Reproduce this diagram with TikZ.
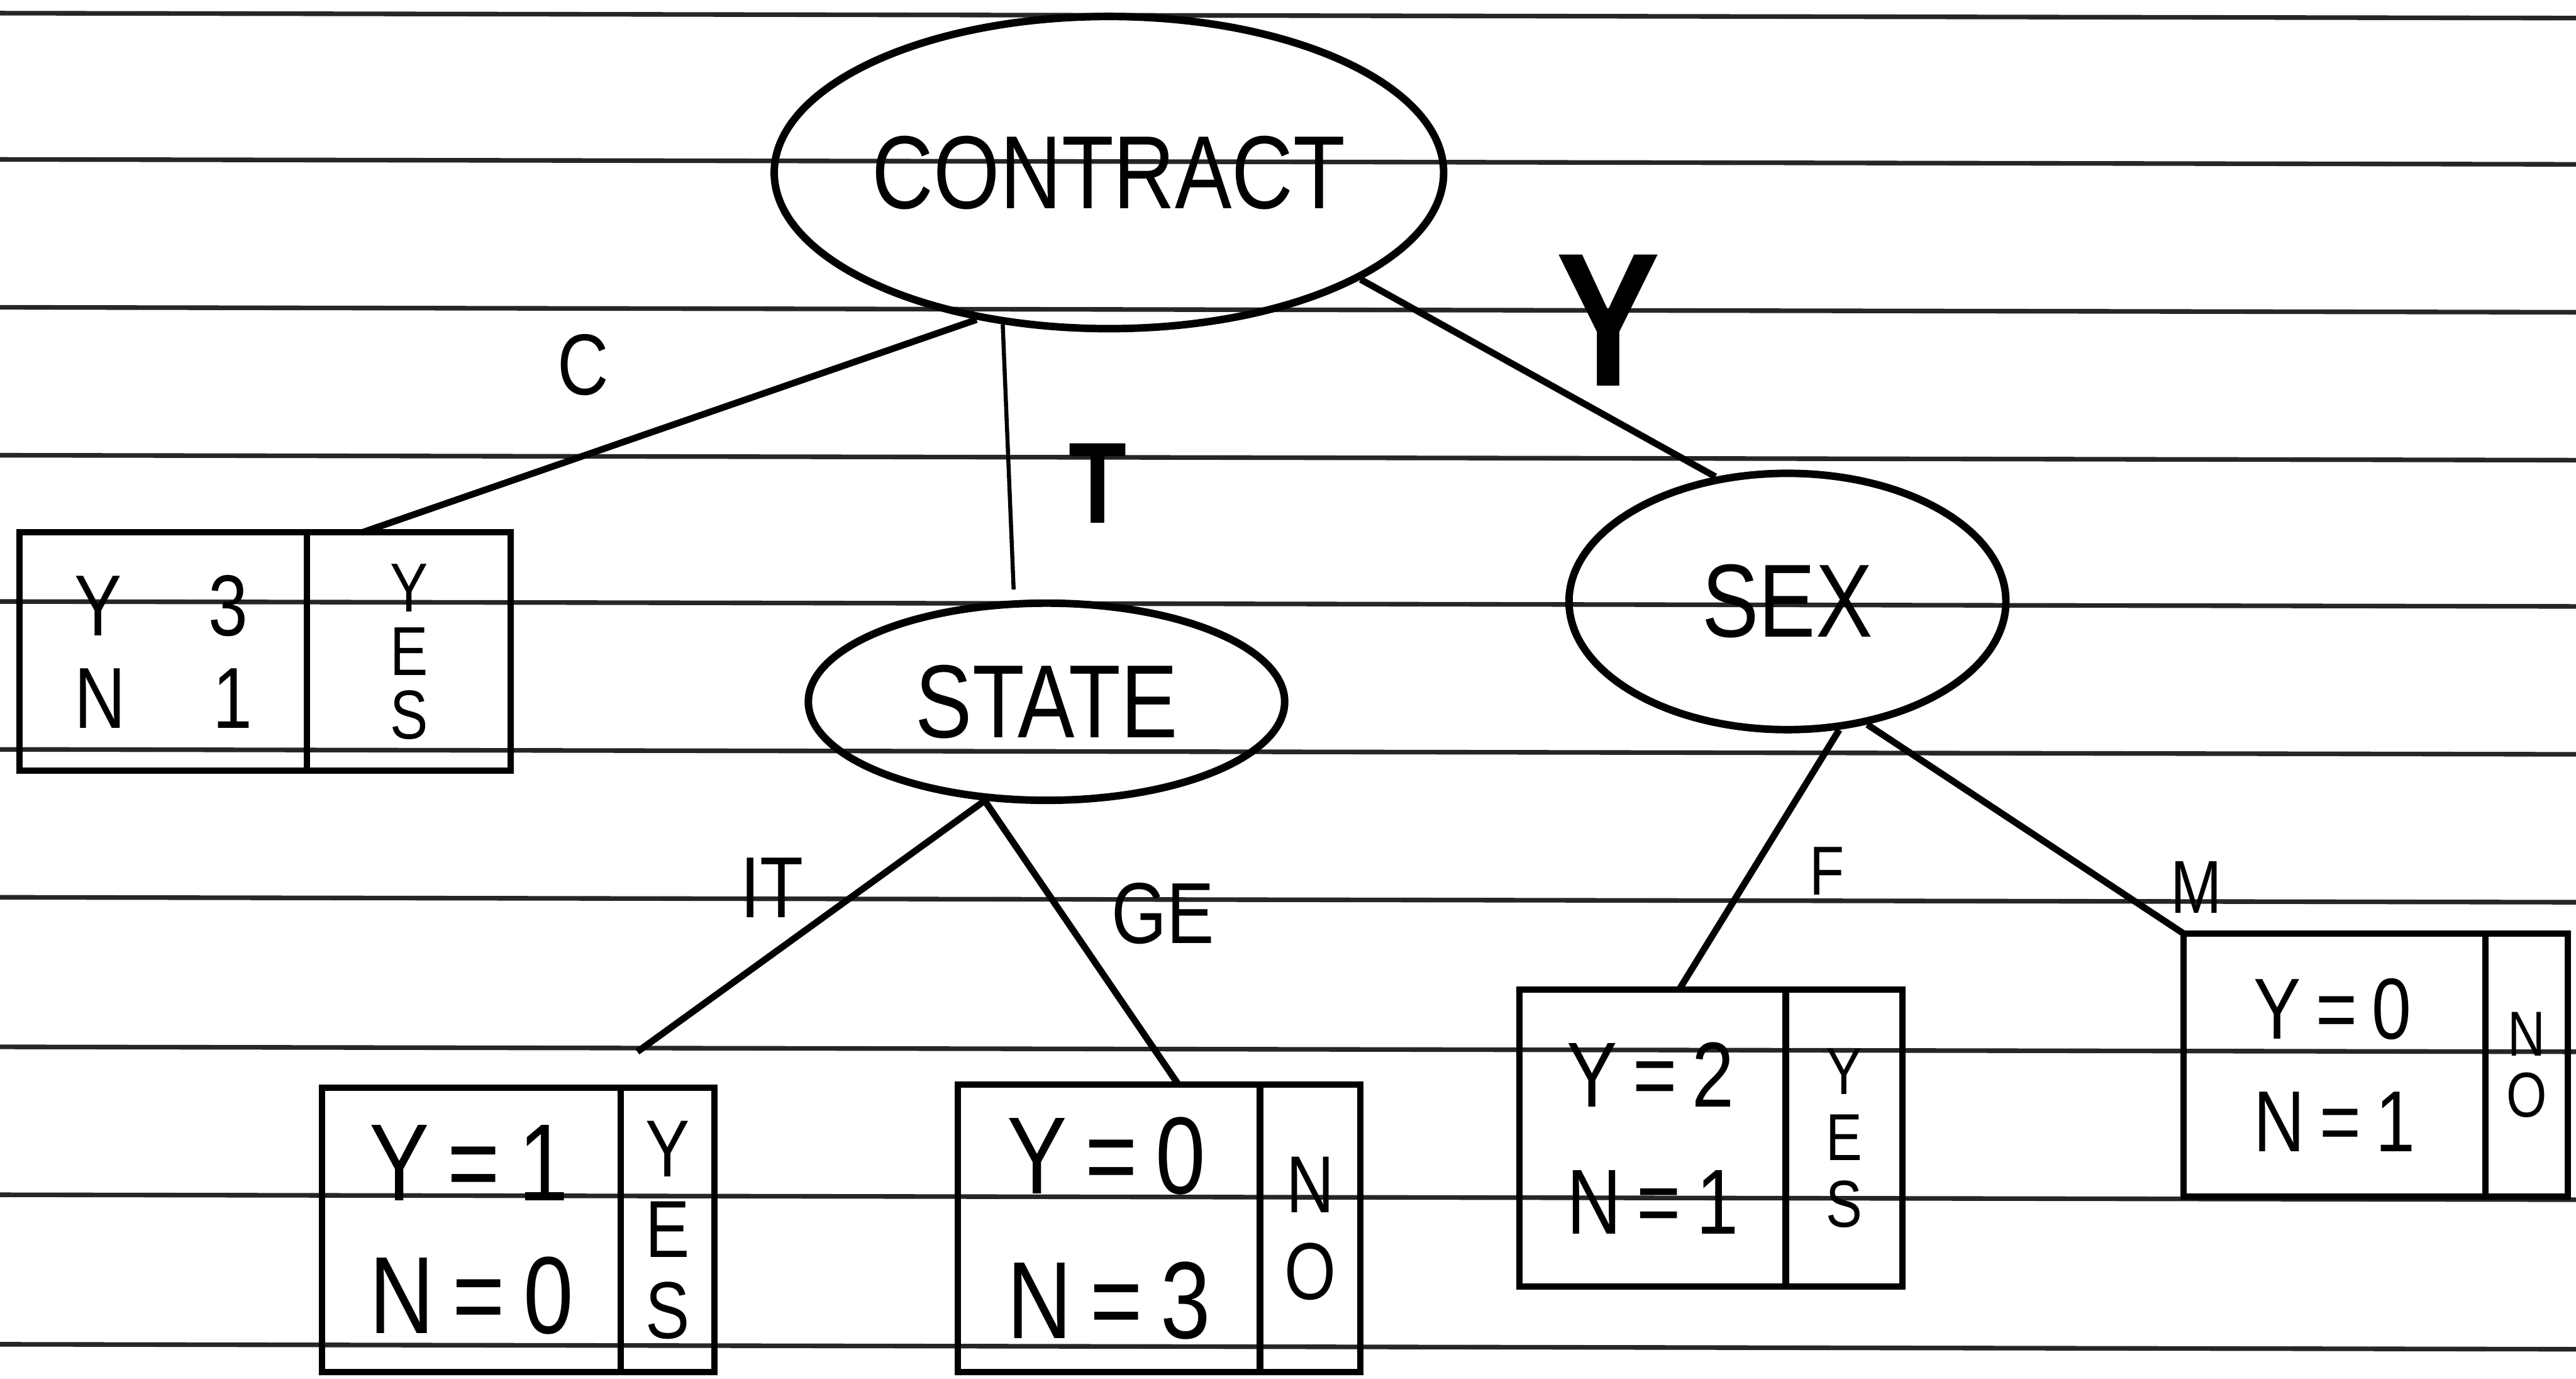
\documentclass[tikz,border=0pt]{standalone}
\usepackage{fontspec}
\newfontfamily\handfont[FakeStretch=0.82]{Liberation Sans}
\usetikzlibrary{shapes.geometric, positioning, calc}

\begin{document}
\begin{tikzpicture}[
    x=0.02cm,
    y=-0.02cm,
    attr/.style={
        ellipse,
        draw=black,
        line width=2.6pt,
        inner sep=0pt,
        font=\handfont\fontsize{36}{40}\selectfont
    },
    counts/.style={
        rectangle,
        draw=black,
        line width=2.2pt,
        inner sep=0pt,
        outer sep=0pt,
        align=left,
        font=\handfont\fontsize{38}{46}\selectfont
    },
    verdict/.style={
        rectangle,
        draw=black,
        line width=2.2pt,
        inner sep=0pt,
        outer sep=0pt,
        align=center,
        font=\handfont\fontsize{26}{26}\selectfont
    },
    branch/.style={
        font=\handfont\fontsize{30}{30}\selectfont
    },
    edge/.style={line width=2.3pt},
    ruled/.style={line width=1.6pt, black!85}
]
\useasboundingbox (0,0) rectangle (1568,839);

% Ruled paper
\foreach \ry in {8,97,187,277,366,456,546,637,727,818}
    \draw[ruled] (0,\ry) -- (1568,\ry+3);

% Attribute nodes
\node[attr, minimum width=7.64cm, minimum height=3.8cm] (contract) at (675,105) {CONTRACT};
\node[attr, minimum width=5.8cm, minimum height=2.4cm] (state) at (637,427) {STATE};
\node[attr, minimum width=5.32cm, minimum height=3.12cm] (sex) at (1088,366) {SEX};

% Leaves: counts + class
\node[counts, anchor=north west, minimum width=3.5cm, minimum height=2.9cm,
      font=\handfont\fontsize{30}{32}\selectfont] (leafC) at (12,324) {Y\quad 3\\N\quad 1};
\node[verdict, right=0pt of leafC, minimum width=2.48cm, minimum height=2.9cm,
      font=\handfont\fontsize{24}{22}\selectfont] (ansC) {Y\\E\\S};

\node[counts, anchor=north west, minimum width=3.64cm, minimum height=3.46cm,
      font=\handfont\fontsize{38}{46}\selectfont] (leafIT) at (196,662) {Y\,=\,1\\N\,=\,0};
\node[verdict, right=0pt of leafIT, minimum width=1.14cm, minimum height=3.46cm,
      font=\handfont\fontsize{28}{28}\selectfont] (ansIT) {Y\\E\\S};

\node[counts, anchor=north west, minimum width=3.68cm, minimum height=3.5cm,
      font=\handfont\fontsize{38}{50}\selectfont] (leafGE) at (583,660) {Y\,=\,0\\N\,=\,3};
\node[verdict, right=0pt of leafGE, minimum width=1.22cm, minimum height=3.5cm,
      font=\handfont\fontsize{28}{30}\selectfont] (ansGE) {N\\O};

\node[counts, anchor=north west, minimum width=3.24cm, minimum height=3.62cm,
      font=\handfont\fontsize{32}{44}\selectfont] (leafF) at (925,602) {Y\,=\,2\\N\,=\,1};
\node[verdict, right=0pt of leafF, minimum width=1.42cm, minimum height=3.62cm,
      font=\handfont\fontsize{23}{23}\selectfont] (ansF) {Y\\E\\S};

\node[counts, anchor=north west, minimum width=3.68cm, minimum height=3.2cm,
      font=\handfont\fontsize{30}{39}\selectfont] (leafM) at (1329,568) {Y\,=\,0\\N\,=\,1};
\node[verdict, right=0pt of leafM, minimum width=1.0cm, minimum height=3.2cm,
      font=\handfont\fontsize{22}{21}\selectfont] (ansM) {N\\O};

% Branch labels
\node[branch] (lblC) at (355,222) {C};
\node[branch, font=\handfont\bfseries\fontsize{40}{40}\selectfont] (lblT) at (668,294) {T};
\node[branch, font=\handfont\bfseries\fontsize{66}{66}\selectfont] (lblY) at (979,195) {Y};
\node[branch] (lblIT) at (470,540) {IT};
\node[branch] (lblGE) at (708,556) {GE};
\node[branch, font=\handfont\fontsize{24}{24}\selectfont] (lblF) at (1112,530) {F};
\node[branch, font=\handfont\fontsize{26}{26}\selectfont] (lblM) at (1337,540) {M};

% Branches
\draw[edge] (contract.228) -- ($(ansC.north west)!0.27!(ansC.north east)$);
\draw[edge, line width=1.4pt] (contract.235) -- ($(state.north)+(-20,-6)$);
\draw[edge] (contract.337) -- (sex.120);
\draw[edge] (state.238) -- ($(ansIT.north west)+(10,-22)$);
\draw[edge] (state.238) -- ($(leafGE.north west)!0.73!(leafGE.north east)$);
\draw[edge] (sex.292) -- ($(leafF.north west)!0.6!(leafF.north east)$);
\draw[edge] (sex.303) -- (leafM.north west);

\end{tikzpicture}
\end{document}
